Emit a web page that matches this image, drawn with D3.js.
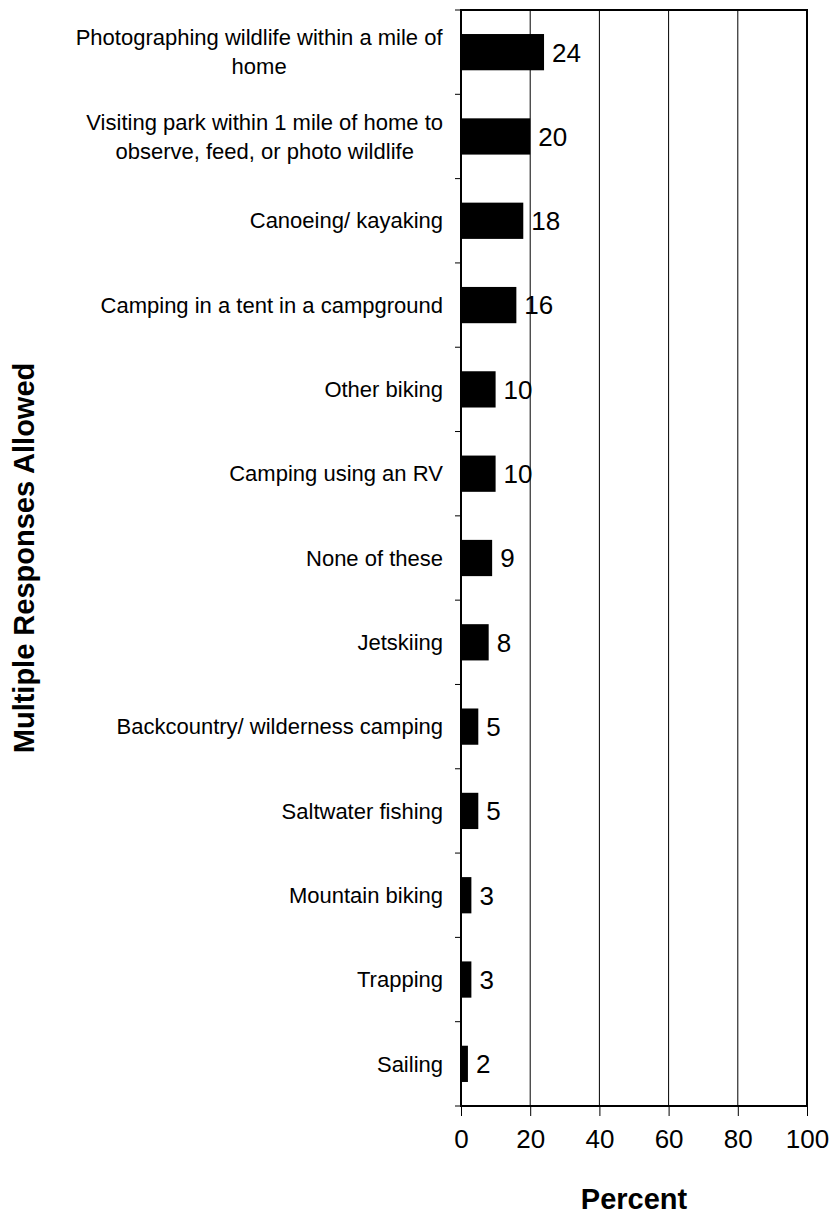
<!DOCTYPE html>
<html>
<head>
<meta charset="utf-8">
<script src="https://cdn.jsdelivr.net/npm/d3@7"></script>
<style>
  html, body { margin: 0; padding: 0; background: #fff; }
  svg { display: block; font-family: Arial, "Liberation Sans", sans-serif; }
</style>
</head>
<body>
<svg id="chart" width="835" height="1214"></svg>
<script>
// Activities (multiple responses allowed), percent of respondents
const categories = [
  ["Photographing wildlife within a mile of", "home"],
  ["Visiting park within 1 mile of home to", "observe, feed, or photo wildlife"],
  ["Canoeing/ kayaking"],
  ["Camping in a tent in a campground"],
  ["Other biking"],
  ["Camping using an RV"],
  ["None of these"],
  ["Jetskiing"],
  ["Backcountry/ wilderness camping"],
  ["Saltwater fishing"],
  ["Mountain biking"],
  ["Trapping"],
  ["Sailing"]
];
const values = [24, 20, 18, 16, 10, 10, 9, 8, 5, 5, 3, 3, 2];
const xTicks = [0, 20, 40, 60, 80, 100];
const xTitle = "Percent";
const yTitle = "Multiple Responses Allowed";

const svg = d3.select("#chart");
const margin = { left: 461, right: 28, top: 10, bottom: 108 };
const W = 835, H = 1214;
const plotW = W - margin.left - margin.right;
const plotH = H - margin.top - margin.bottom;

const g = svg.append("g").attr("transform", `translate(${margin.left},${margin.top})`);

const x = d3.scaleLinear().domain([0, 100]).range([0, plotW]);
const y = d3.scaleBand().domain(d3.range(categories.length)).range([0, plotH])
  .paddingInner(0.57).paddingOuter(0.285);
const band = plotH / categories.length;

// vertical gridlines
g.append("g").selectAll("line").data(xTicks.filter(t => t > 0 && t < 100)).join("line")
  .attr("x1", d => x(d)).attr("x2", d => x(d))
  .attr("y1", 0).attr("y2", plotH)
  .attr("stroke", "#000").attr("stroke-width", 1);

// bars
g.append("g").selectAll("rect").data(values).join("rect")
  .attr("x", 0)
  .attr("y", (d, i) => y(i))
  .attr("width", d => x(d))
  .attr("height", y.bandwidth())
  .attr("fill", "#000");

// value labels
g.append("g").selectAll("text").data(values).join("text")
  .attr("x", d => x(d) + 8)
  .attr("y", (d, i) => y(i) + y.bandwidth() / 2)
  .attr("dy", "0.36em")
  .attr("font-size", 26)
  .attr("fill", "#000")
  .text(d => d);

// plot frame
g.append("rect")
  .attr("x", 0).attr("y", 0).attr("width", plotW).attr("height", plotH)
  .attr("fill", "none").attr("stroke", "#000").attr("stroke-width", 2);

// y-axis: ticks between categories, labels to the left
const yBound = d3.range(categories.length + 1).map(i => i * band);
g.append("g").selectAll("line").data(yBound).join("line")
  .attr("x1", -6).attr("x2", 0)
  .attr("y1", d => d).attr("y2", d => d)
  .attr("stroke", "#000").attr("stroke-width", 1);

const catLabels = g.append("g").selectAll("text").data(categories).join("text")
  .attr("font-size", 22)
  .attr("fill", "#000")
  .attr("text-anchor", "middle");
catLabels.each(function(lines, i) {
  const t = d3.select(this);
  const lh = 29;
  const cy = y(i) + y.bandwidth() / 2;
  const y0 = cy - (lines.length - 1) * lh / 2;
  t.selectAll("tspan").data(lines).join("tspan")
    .attr("x", 0)
    .attr("y", (d, k) => y0 + k * lh)
    .attr("dy", "0.35em")
    .text(d => d);
});
// right-align each label block while centring its lines
catLabels.each(function() {
  const t = d3.select(this);
  const bb = this.getBBox();
  const cx = -18 - bb.width / 2;
  t.selectAll("tspan").attr("x", cx);
});

// x-axis
const xAxis = d3.axisBottom(x).tickValues(xTicks).tickSize(10).tickPadding(14);
const xg = g.append("g").attr("transform", `translate(0,${plotH})`).call(xAxis);
xg.select(".domain").remove();
xg.selectAll(".tick line").attr("stroke", "#000");
xg.selectAll(".tick text")
  .attr("font-size", 26)
  .attr("font-family", "Arial, 'Liberation Sans', sans-serif")
  .attr("fill", "#000");

// axis titles
svg.append("text")
  .attr("x", margin.left + plotW / 2)
  .attr("y", 1209)
  .attr("text-anchor", "middle")
  .attr("font-size", 29)
  .attr("font-weight", "bold")
  .attr("fill", "#000")
  .text(xTitle);

svg.append("text")
  .attr("transform", `translate(24,${margin.top + plotH / 2}) rotate(-90)`)
  .attr("text-anchor", "middle")
  .attr("dy", "0.35em")
  .attr("font-size", 29)
  .attr("font-weight", "bold")
  .attr("fill", "#000")
  .text(yTitle);
</script>
</body>
</html>
